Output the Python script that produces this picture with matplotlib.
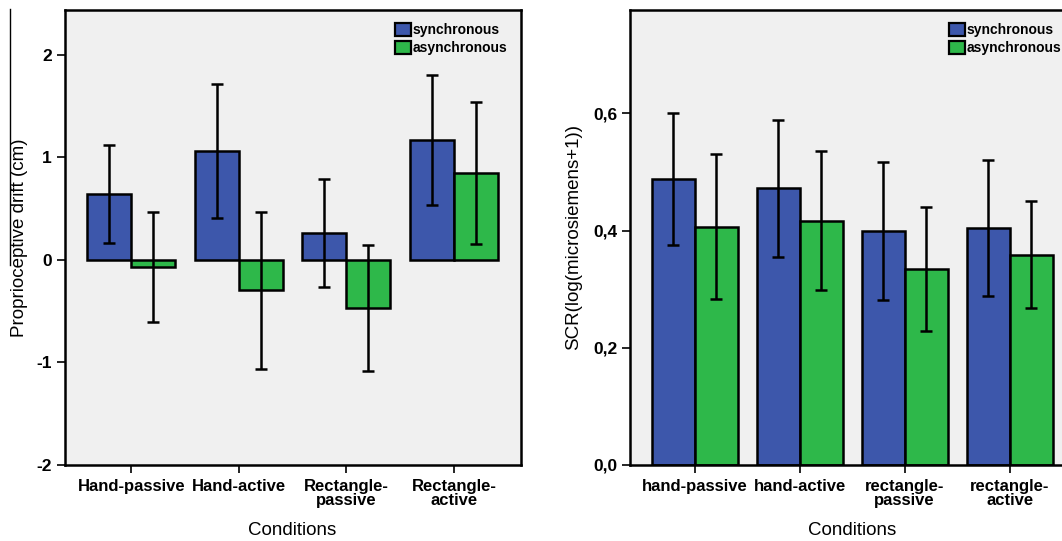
"""Two SPSS-style grouped bar charts: proprioceptive drift and SCR by condition."""

import matplotlib.pyplot as plt
import numpy as np
from matplotlib.lines import Line2D
from matplotlib.patches import Patch

plt.rcParams["font.family"] = ["Liberation Sans", "DejaVu Sans"]

series_names = ["synchronous", "asynchronous"]

drift_conditions = ["Hand-passive", "Hand-active", "Rectangle-\npassive", "Rectangle-\nactive"]
drift_sync = [0.64, 1.06, 0.26, 1.17]
drift_sync_lo = [0.16, 0.41, -0.26, 0.53]
drift_sync_hi = [1.12, 1.71, 0.79, 1.80]
drift_async = [-0.07, -0.29, -0.47, 0.845]
drift_async_lo = [-0.61, -1.06, -1.08, 0.15]
drift_async_hi = [0.47, 0.47, 0.14, 1.54]
drift_ticks = [-2, -1, 0, 1, 2]

scr_conditions = ["hand-passive", "hand-active", "rectangle-\npassive", "rectangle-\nactive"]
scr_sync = [0.488, 0.472, 0.399, 0.404]
scr_sync_lo = [0.376, 0.355, 0.281, 0.288]
scr_sync_hi = [0.600, 0.588, 0.517, 0.521]
scr_async = [0.406, 0.416, 0.334, 0.359]
scr_async_lo = [0.283, 0.298, 0.228, 0.268]
scr_async_hi = [0.530, 0.535, 0.441, 0.450]
scr_ticks = [0.0, 0.2, 0.4, 0.6]
scr_tick_labels = ["0,0", "0,2", "0,4", "0,6"]

BLUE = "#3d57ab"
GREEN = "#2eb84a"
BG = "#f0f0f0"
WIDTH = 0.41


def draw_panel(ax, labels, sync, sync_lo, sync_hi, asyn, asyn_lo, asyn_hi):
    x = np.arange(len(labels))
    for offset, vals, lo, hi, color in [
        (-WIDTH / 2, sync, sync_lo, sync_hi, BLUE),
        (WIDTH / 2, asyn, asyn_lo, asyn_hi, GREEN),
    ]:
        vals = np.array(vals)
        err = np.vstack([vals - np.array(lo), np.array(hi) - vals])
        ax.bar(x + offset, vals, width=WIDTH, color=color, edgecolor="black",
               linewidth=1.8, zorder=2)
        ax.errorbar(x + offset, vals, yerr=err, fmt="none", ecolor="black",
                    elinewidth=1.8, capsize=4.0, capthick=1.8, zorder=3)

    ax.set_facecolor(BG)
    ax.set_xticks(x)
    ax.set_xticklabels(labels, fontsize=12, fontweight="bold", linespacing=0.95)
    ax.set_xlim(-0.62, len(labels) - 1 + 0.62)
    ax.set_xlabel("Conditions", fontsize=13.5, labelpad=10)
    for side in ["left", "bottom", "right", "top"]:
        ax.spines[side].set_linewidth(1.8)
    ax.tick_params(axis="both", direction="out", length=6, width=1.2)
    ax.tick_params(axis="x", pad=4)
    ax.tick_params(axis="y", pad=3)

    handles = [Patch(facecolor=BLUE, edgecolor="black", linewidth=1.6),
               Patch(facecolor=GREEN, edgecolor="black", linewidth=1.6)]
    leg = ax.legend(handles, series_names, loc="upper right", frameon=False,
                    handlelength=1.1, handleheight=1.1, handletextpad=0.15,
                    labelspacing=0.25, borderaxespad=0.55,
                    prop={"weight": "bold", "size": 10})
    return leg


fig = plt.figure(figsize=(10.62, 5.41), dpi=100)

ax1 = fig.add_axes([0.0608, 0.1405, 0.4294, 0.8418])
draw_panel(ax1, drift_conditions, drift_sync, drift_sync_lo, drift_sync_hi,
           drift_async, drift_async_lo, drift_async_hi)
ax1.set_ylim(-2, 2.44)
ax1.set_yticks(drift_ticks)
ax1.set_yticklabels([str(v) for v in drift_ticks], fontweight="bold", fontsize=12.5)
ax1.set_ylabel("Proprioceptive drift (cm)", fontsize=13.5, labelpad=6)

ax2 = fig.add_axes([0.593, 0.1405, 0.419, 0.8418])
draw_panel(ax2, scr_conditions, scr_sync, scr_sync_lo, scr_sync_hi,
           scr_async, scr_async_lo, scr_async_hi)
ax2.set_ylim(0, 0.777)
ax2.set_yticks(scr_ticks)
ax2.set_yticklabels(scr_tick_labels, fontweight="bold", fontsize=12.5)
ax2.set_ylabel("SCR(log(microsiemens+1))", fontsize=13.5, labelpad=8)

# stray vertical rule at the far left of the original image
fig.add_artist(Line2D([0.0095, 0.0095], [1 - 9 / 541, 1 - 265 / 541],
                      color="black", linewidth=1.0))

fig.savefig("out.png", dpi=100)
